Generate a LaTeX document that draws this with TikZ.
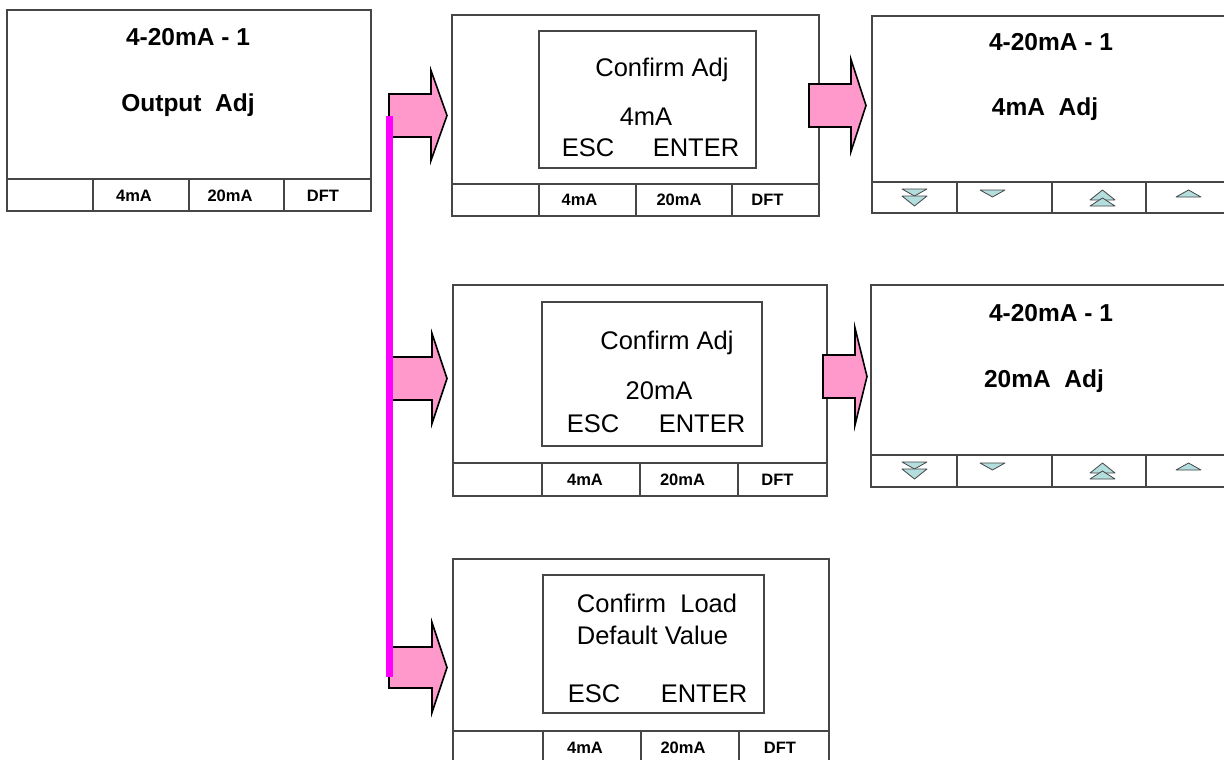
\documentclass[tikz,border=0pt]{standalone}
\usepackage{fontspec}
\setmainfont{Liberation Sans}
\definecolor{pinkf}{RGB}{255,153,204}
\definecolor{magl}{RGB}{255,0,255}
\definecolor{tric}{RGB}{180,222,222}
\definecolor{linec}{RGB}{70,70,70}
\tikzset{
  panel/.style={draw=linec, line width=1.2pt, rectangle, inner sep=0pt, outer sep=0pt, anchor=north west},
  sep/.style={draw=linec, line width=1.2pt},
  ttl/.style={font=\fontsize{24.5}{27}\selectfont\bfseries, anchor=base, inner sep=0pt},
  msg/.style={font=\fontsize{25.5}{28}\selectfont, anchor=base, inner sep=0pt},
  key/.style={font=\fontsize{16.5}{18}\selectfont\bfseries, anchor=base, inner sep=0pt},
  parrow/.style={draw=black, line width=1.6pt, fill=pinkf, line join=miter},
  magline/.style={draw=magl, line width=7pt},
  tri/.style={draw=linec, line width=0.8pt, fill=tric, line join=round}
}
\newcommand{\panelnode}[5]{\node[panel, minimum width=#4pt, minimum height=#5pt] (#1) at (#2,#3) {};}
\newcommand{\barrow}[6]{%
  \draw[parrow] (#1,{#4-#5}) -- (#2,{#4-#5}) -- (#2,{#4-#6}) -- (#3,#4) -- (#2,{#4+#6}) -- (#2,{#4+#5}) -- (#1,{#4+#5}) -- cycle;}
% triangle: cx, base y, apex y
\newcommand{\tdown}[3]{\filldraw[tri] ({#1-12.5},#2) -- ({#1+12.5},#2) -- (#1,#3) -- cycle;}
\newcommand{\tup}[3]{\filldraw[tri] ({#1-12.5},#2) -- ({#1+12.5},#2) -- (#1,#3) -- cycle;}
\newcommand{\icons}[1]{% #1 = y offset
  \tdown{914.5}{189+#1}{196+#1}\tdown{914.5}{196+#1}{206+#1}
  \tdown{992.5}{190+#1}{197+#1}
  \tup{1102.5}{200+#1}{190+#1}\tup{1102.5}{206+#1}{198+#1}
  \tup{1188.5}{197+#1}{190+#1}}
\begin{document}
\begin{tikzpicture}[x=1pt,y=-1pt]
\clip (0,0) rectangle (1224,760);
\fill[white] (0,0) rectangle (1224,760);

% ---- Panel 1
\panelnode{p1}{7}{10}{364}{201}
\draw[sep] (7,179) -- (371,179);
\foreach \x in {93,189,284} \draw[sep] (\x,179) -- (\x,211);
\node[ttl] (p1t) at (188,46) {4-20mA - 1};
\node[ttl] (p1s) at (188,111) {Output\ \ Adj};
\node[key] (p1k1) at (134,201) {4mA};
\node[key] (p1k2) at (230,201) {20mA};
\node[key] (p1k3) at (323,201) {DFT};

% ---- Panel 2
\panelnode{p2}{452}{15}{367}{201}
\draw[sep] (452,184) -- (819,184);
\foreach \x in {539,636,732} \draw[sep] (\x,184) -- (\x,216);
\node[panel, minimum width=217pt, minimum height=137pt] (p2in) at (539,31) {};
\node[msg] (p2a) at (662,76.5) {Confirm Adj};
\node[msg] (p2b) at (646,125) {4mA};
\node[msg] (p2c) at (588,156) {ESC};
\node[msg] (p2d) at (696,156) {ENTER};
\node[key] (p2k1) at (579.5,205.5) {4mA};
\node[key] (p2k2) at (679,205.5) {20mA};
\node[key] (p2k3) at (767.5,205.5) {DFT};

% ---- Panel 3
\panelnode{p3}{872}{16}{358}{197}
\draw[sep] (872,182) -- (1230,182);
\foreach \x in {957,1052,1146} \draw[sep] (\x,182) -- (\x,213);
\node[ttl] (p3t) at (1051,51) {4-20mA - 1};
\node[ttl] (p3s) at (1045,115.5) {4mA\ \ Adj};
\icons{0}

% ---- Panel 4
\panelnode{p4}{453}{285}{374}{211}
\draw[sep] (453,463) -- (827,463);
\foreach \x in {542,640,738} \draw[sep] (\x,463) -- (\x,496);
\node[panel, minimum width=220pt, minimum height=144pt] (p4in) at (542,302) {};
\node[msg] (p4a) at (667,349) {Confirm Adj};
\node[msg] (p4b) at (659,399) {20mA};
\node[msg] (p4c) at (593,432.5) {ESC};
\node[msg] (p4d) at (702,432.5) {ENTER};
\node[key] (p4k1) at (585,485) {4mA};
\node[key] (p4k2) at (682.5,485) {20mA};
\node[key] (p4k3) at (777.5,485) {DFT};

% ---- Panel 5
\panelnode{p5}{871}{285}{359}{202}
\draw[sep] (871,455) -- (1230,455);
\foreach \x in {957,1052,1146} \draw[sep] (\x,455) -- (\x,487);
\node[ttl] (p5t) at (1051,321) {4-20mA - 1};
\node[ttl] (p5s) at (1044,387) {20mA\ \ Adj};
\icons{273}

% ---- Panel 6
\panelnode{p6}{453}{559}{376}{205}
\draw[sep] (453,731) -- (829,731);
\foreach \x in {543,641,739} \draw[sep] (\x,731) -- (\x,764);
\node[panel, minimum width=221pt, minimum height=138pt] (p6in) at (543,575) {};
\node[msg] (p6a) at (657,612) {Confirm\ \ Load};
\node[msg] (p6b) at (652.5,644) {Default Value};
\node[msg] (p6c) at (594,702) {ESC};
\node[msg] (p6d) at (704,702) {ENTER};
\node[key] (p6k1) at (585,753) {4mA};
\node[key] (p6k2) at (683,753) {20mA};
\node[key] (p6k3) at (780,753) {DFT};

% ---- Block arrows
\barrow{389}{431}{447}{115.5}{21.5}{45}
\barrow{389}{432}{447}{378.5}{21.5}{45}
\barrow{389}{432}{447}{667.5}{20.5}{45}
\barrow{809}{851}{866}{105.5}{21.5}{46}
\barrow{823}{855}{867}{376.5}{21.5}{48.5}

% ---- Magenta bus line
\coordinate (mtop) at (389.5,116);
\coordinate (mbot) at (389.5,677);
\draw[magline] (mtop) -- (mbot);
\end{tikzpicture}
\end{document}
